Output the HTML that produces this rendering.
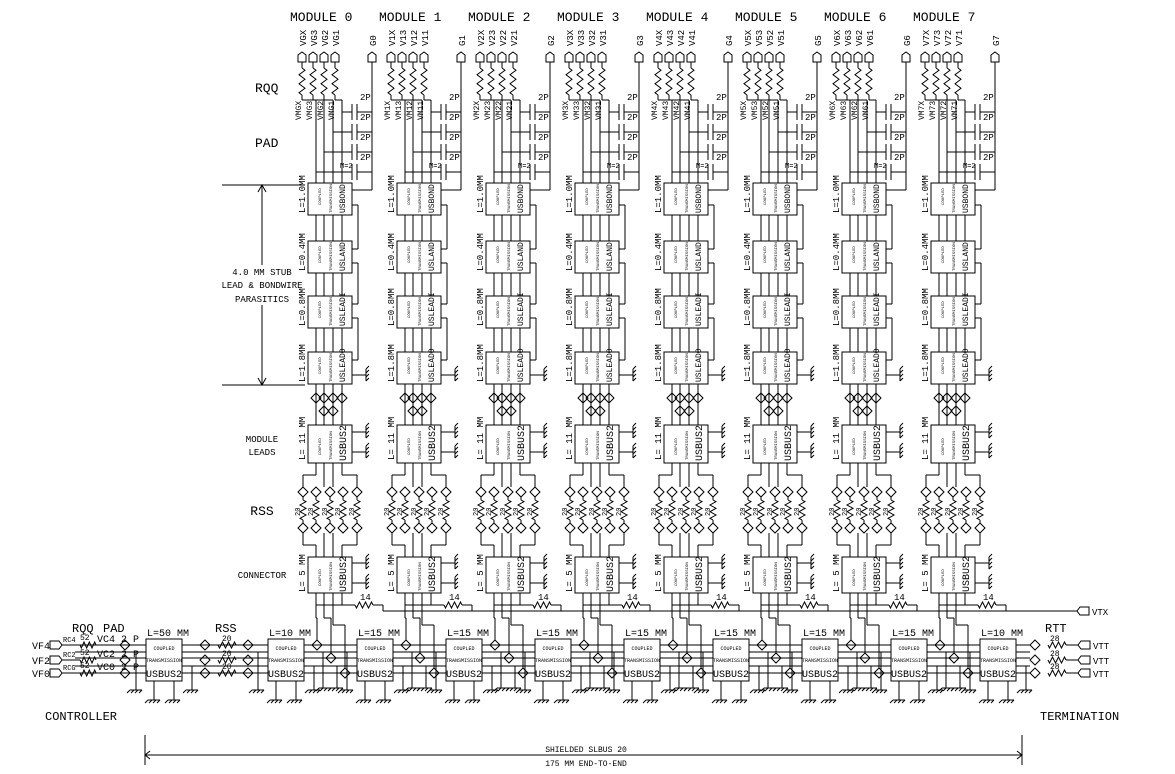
<!DOCTYPE html>
<html><head><meta charset="utf-8"><style>
html,body{margin:0;padding:0;background:#fff;width:1175px;height:774px;overflow:hidden}
svg text{font-family:"Liberation Mono","DejaVu Sans Mono",monospace;fill:#000}
</style></head><body>
<svg id="s" xmlns="http://www.w3.org/2000/svg" width="1175" height="774" viewBox="0 0 1175 774">
<g id="g" stroke="#000" stroke-width="1" fill="none"></g>
<g id="t"></g>
</svg>
<script>
var G=document.getElementById('g'),T=document.getElementById('t'),NS='http://www.w3.org/2000/svg';
function el(p,n,a){var e=document.createElementNS(NS,n);for(var k in a)e.setAttribute(k,a[k]);p.appendChild(e);return e;}
function L(x1,y1,x2,y2){el(G,'line',{x1:x1,y1:y1,x2:x2,y2:y2});}
function P(d){el(G,'path',{d:d});}
function R(x,y,w,h){el(G,'rect',{x:x,y:y,width:w,height:h,fill:'#fff'});}
function tx(x,y,s,fs,rot,anchor){var a={x:x,y:y,'font-size':fs};if(rot)a.transform='rotate('+rot+' '+x+' '+y+')';if(anchor)a['text-anchor']=anchor;var e=el(T,'text',a);e.textContent=s;}
function dia(x,y){P('M'+x+' '+(y-5)+'L'+(x+5)+' '+y+'L'+x+' '+(y+5)+'L'+(x-5)+' '+y+'Z');}
function zigV(x,y1,y2){var d='M'+x+' '+y1,n=6,h=(y2-y1)/n;for(var i=0;i<n;i++)d+='L'+(x+(i%2?-3:3))+' '+(y1+h*(i+.5));d+='L'+x+' '+y2;P(d);}
function zigH(x1,x2,y){var d='M'+x1+' '+y,n=6,w=(x2-x1)/n;for(var i=0;i<n;i++)d+='L'+(x1+w*(i+.5))+' '+(y+(i%2?-3:3));d+='L'+x2+' '+y;P(d);}
function gnd(x,y){L(x-6,y,x+6,y);for(var i=-6;i<=6;i+=4)L(x+i,y,x+i-3,y+3);}
function gndV(x,y){L(x,y-6,x,y+6);for(var i=-6;i<=6;i+=4)L(x,y+i,x+3,y+i-3);}
function portUp(x,y){P('M'+(x-4)+' '+(y+10)+'L'+(x-4)+' '+(y+3)+'L'+x+' '+y+'L'+(x+4)+' '+(y+3)+'L'+(x+4)+' '+(y+10)+'Z');}
function portL(x,y){P('M'+(x+12)+' '+(y-4)+'L'+(x+3)+' '+(y-4)+'L'+x+' '+y+'L'+(x+3)+' '+(y+4)+'L'+(x+12)+' '+(y+4)+'Z');}
function portR(x,y){P('M'+x+' '+(y-4)+'L'+(x+9)+' '+(y-4)+'L'+(x+12)+' '+y+'L'+(x+9)+' '+(y+4)+'L'+x+' '+(y+4)+'Z');}

var boxY=[183,241,296,352],boxN=['USBOND','USLAND','USLEADI','USLEADO'],boxL=['L=1.0MM','L=0.4MM','L=0.8MM','L=1.8MM'];
for(var m=0;m<8;m++){
 var d=m*89,bx=308+d,cx=[316+d,324+d,333+d,342+d],gx=372+d;
 tx(290+d,21,'MODULE '+m,13);
 var lab=m==0?['VGX','VG3','VG2','VG1']:['V'+m+'X','V'+m+'3','V'+m+'2','V'+m+'1'];
 var px=[302+d,313+d,324+d,335+d];
 for(var k=0;k<4;k++){tx(px[k]+4,46,lab[k],9,-90);portUp(px[k],52);zigV(px[k],68,95);L(px[k],62,px[k],68);
  L(px[k],95,px[k],100);L(px[k],100,cx[k],100);L(cx[k],100,cx[k],183);}
 tx(gx+4,46,'G'+m,9,-90);portUp(gx,52);L(gx,62,gx,190);L(gx,190,bx+44,190);
 var rv=m==0?['VMGX','VMG3','VMG2','VMG1']:['VM'+m+'X','VM'+m+'3','VM'+m+'2','VM'+m+'1'];
 for(k=0;k<4;k++){tx(px[k]-1,120,rv[k],8,-90);}
 var cy=[112,132,152,172];
 for(k=0;k<4;k++){L(cx[3-k],cy[k],352+d,cy[k]);L(352+d,cy[k]-8,352+d,cy[k]+8);L(357+d,cy[k]-8,357+d,cy[k]+8);L(357+d,cy[k],gx,cy[k]);tx(360+d,cy[k]-12,'2P',9);}
 tx(340+d,168,'M=2',7);
 for(var b=0;b<4;b++){var y=boxY[b];
  if(b<3){for(k=0;k<4;k++)L(cx[k],y+32,cx[k],boxY[b+1]);
   L(bx+44,y+22,bx+50,y+22);L(bx+50,y+22,bx+50,boxY[b+1]+8);L(bx+50,boxY[b+1]+8,bx+44,boxY[b+1]+8);}
  R(bx,y,44,32);tx(bx+13,y+22,'COUPLED',4,-90);tx(bx+24,y+30,'TRANSMISSION',4,-90);tx(bx+37,y+30,boxN[b],8,-90);
  tx(bx-3,y+30,boxL[b],9,-90);}
 L(bx+44,375,bx+58,375);gndV(bx+58,375);
 for(k=0;k<4;k++){L(cx[k],384,cx[k],425);}
 dia(cx[0],398);dia(cx[1],398);dia(cx[2],398);dia(cx[3],398);dia(cx[1],411);dia(cx[2],411);
 R(bx,425,44,38);tx(bx+13,455,'COUPLED',4,-90);tx(bx+24,460,'TRANSMISSION',4,-90);tx(bx+38,461,'USBUS2',10,-90);tx(bx-3,460,'L= 11 MM',9,-90);
 L(bx+44,432,bx+58,432);gndV(bx+58,432);L(bx+44,452,bx+58,452);gndV(bx+58,452);
 var rx=[303+d,316+d,330+d,343+d,357+d];
 L(cx[0],463,cx[0],475);L(cx[0],475,rx[0],475);L(rx[0],475,rx[0],487);
 L(cx[3],463,cx[3],475);L(cx[3],475,rx[4],475);L(rx[4],475,rx[4],487);
 L(cx[1],463,cx[1],487);L(cx[2],463,cx[2],487);
 for(k=0;k<5;k++){dia(rx[k],492);L(rx[k],497,rx[k],500);zigV(rx[k],500,520);L(rx[k],520,rx[k],523);dia(rx[k],528);tx(rx[k]-3,516,'20',7,-90);}
 L(rx[0],533,rx[0],545);L(rx[0],545,cx[0],545);L(cx[0],545,cx[0],557);
 L(rx[4],533,rx[4],545);L(rx[4],545,cx[3],545);L(cx[3],545,cx[3],557);
 L(cx[1],533,cx[1],557);L(cx[2],533,cx[2],557);
 R(bx,557,44,36);tx(bx+13,586,'COUPLED',4,-90);tx(bx+24,591,'TRANSMISSION',4,-90);tx(bx+38,592,'USBUS2',10,-90);tx(bx-3,592,'L= 5 MM',9,-90);
 L(bx+44,563,bx+58,563);gndV(bx+58,563);L(bx+44,583,bx+58,583);gndV(bx+58,583);
 L(cx[0],593,cx[0],605);L(cx[0],605,cx[3],605);
 L(cx[3],593,cx[3],605);zigH(355+d,373+d,605);L(cx[3],605,355+d,605);tx(360+d,600,'14',9);
 L(373+d,605,383+d,605);L(383+d,605,383+d,611);
 var dx=[317+d,331+d,345+d];
 L(cx[0],605,cx[0],618);L(cx[0],618,dx[0],618);
 L(dx[0],618,dx[0],640);dia(dx[0],645);L(cx[1],593,cx[1],618);L(cx[1],618,dx[1],618);L(dx[1],618,dx[1],653);dia(dx[1],658);
 L(cx[2],593,cx[2],625);L(cx[2],625,dx[2],625);L(dx[2],625,dx[2],668);dia(dx[2],673);
 L(323+d,652,323+d,688);L(337+d,666,337+d,688);gnd(325+d,688);gnd(337+d,688);
}
L(383,611,1077,611);portL(1077,611);tx(1092,615,'VTX',9);
var busY=[645,652,658,666,673];
busY.forEach(function(y){L(75,y,1030,y);});
var bxs=[146,268,357,446,535,624,713,802,891,980],bl=['L=50 MM','L=10 MM','L=15 MM','L=15 MM','L=15 MM','L=15 MM','L=15 MM','L=15 MM','L=15 MM','L=10 MM'];
bxs.forEach(function(x,i){R(x,639,36,42);tx(x+18,650,'COUPLED',5,0,'middle');tx(x+18,662,'TRANSMISSION',5,0,'middle');tx(x+18,677,'USBUS2',10,0,'middle');tx(x+1,636,bl[i],10);
 L(x+8,681,x+8,700);gnd(x+8,700);L(x+28,681,x+28,700);gnd(x+28,700);
 L(x-10,652,x-10,690);gnd(x-10,690);L(x+46,666,x+46,690);gnd(x+46,690);});
[['VF4',645,'RC4','VC4'],['VF2',660,'RC2','VC2'],['VF0',673,'RCG','VC0']].forEach(function(a){
 tx(32,a[1]+4,a[0],10);portR(50,a[1]);zigH(80,96,a[1]);L(62,a[1],80,a[1]);tx(63,a[1]-3,a[2],7);tx(80,a[1]-5,'52',8);
 tx(97,a[1]-3,a[3]+' 2 P',10);dia(125,a[1]);dia(205,a[1]);zigH(218,236,a[1]);dia(248,a[1]);tx(222,a[1]-4,'20',8);
 dia(1035,a[1]);zigH(1048,1066,a[1]);L(1066,a[1],1078,a[1]);portL(1078,a[1]);tx(1093,a[1]+4,'VTT',9);tx(1050,a[1]-4,'28',8);});
tx(72,632,'RQQ',12);tx(103,632,'PAD',12);tx(215,632,'RSS',12);tx(1045,632,'RTT',12);
tx(45,720,'CONTROLLER',12);tx(1040,720,'TERMINATION',12);
L(145,735,145,765);L(1022,735,1022,765);L(145,755,1022,755);P('M150 751L145 755L150 759');P('M1017 751L1022 755L1017 759');
tx(586,752,'SHIELDED SLBUS 20',8,0,'middle');tx(586,766,'175 MM END-TO-END',8,0,'middle');
tx(255,92,'RQQ',13);tx(255,147,'PAD',13);
L(222,185,305,185);L(222,385,305,385);L(262,185,262,265);L(262,305,262,385);P('M258 192L262 185L266 192');P('M258 378L262 385L266 378');
tx(262,275,'4.0 MM STUB',9,0,'middle');tx(262,288,'LEAD & BONDWIRE',9,0,'middle');tx(262,302,'PARASITICS',9,0,'middle');
tx(262,442,'MODULE',9,0,'middle');tx(262,455,'LEADS',9,0,'middle');tx(262,515,'RSS',13,0,'middle');tx(262,578,'CONNECTOR',9,0,'middle');
</script>
</body></html>
